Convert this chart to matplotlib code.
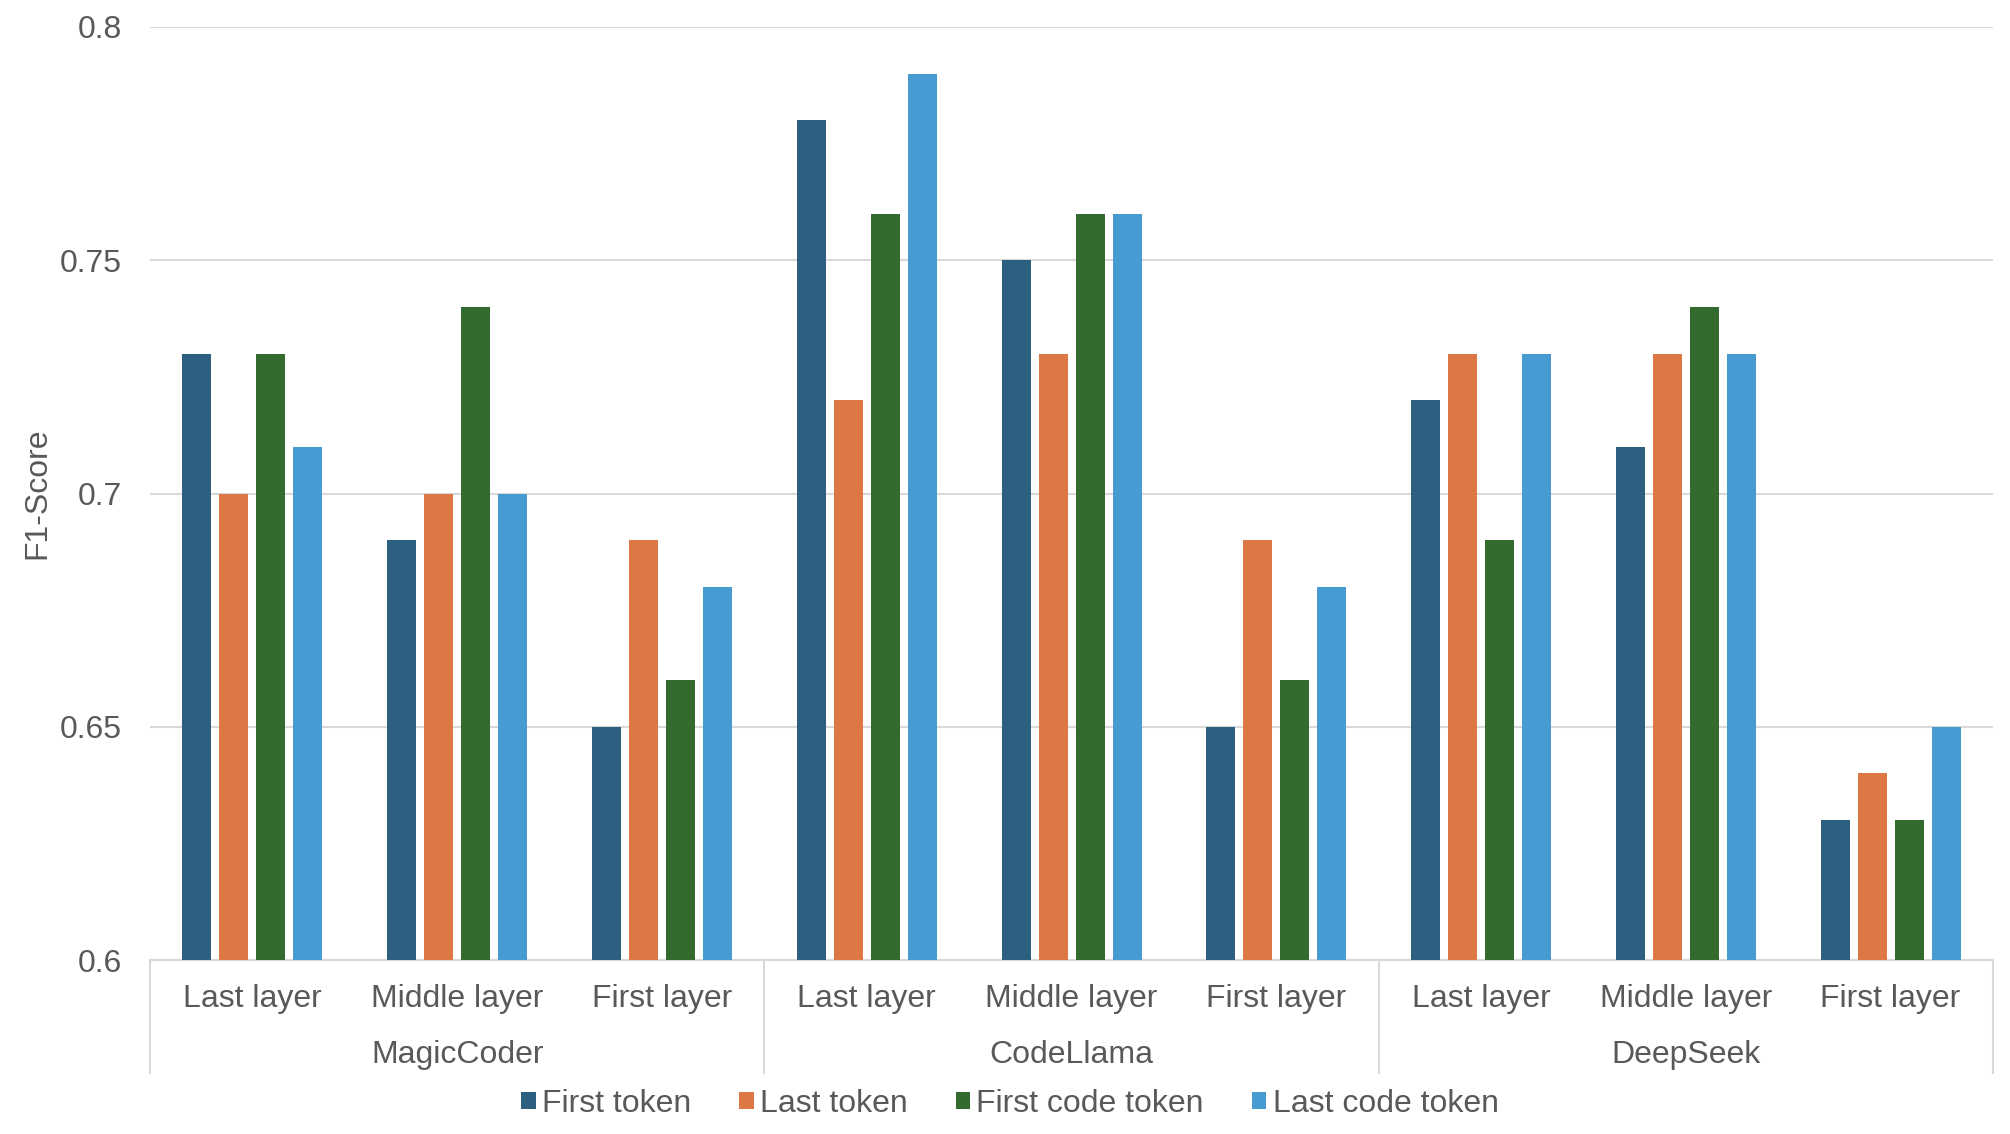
import matplotlib.pyplot as plt
import numpy as np

plt.rcParams['font.family'] = ['Liberation Sans', 'DejaVu Sans']

models = ['MagicCoder', 'CodeLlama', 'DeepSeek']
layers = ['Last layer', 'Middle layer', 'First layer']
series = ['First token', 'Last token', 'First code token', 'Last code token']
colors = ['#2D5F80', '#DD7844', '#336A2D', '#479BD2']

# rows follow model x layer order
first_token = [0.73, 0.69, 0.65, 0.78, 0.75, 0.65, 0.72, 0.71, 0.63]
last_token = [0.70, 0.70, 0.69, 0.72, 0.73, 0.69, 0.73, 0.73, 0.64]
first_code_token = [0.73, 0.74, 0.66, 0.76, 0.76, 0.66, 0.69, 0.74, 0.63]
last_code_token = [0.71, 0.70, 0.68, 0.79, 0.76, 0.68, 0.73, 0.73, 0.65]
values = [first_token, last_token, first_code_token, last_code_token]

text_color = '#595959'
grid_color = '#D9D9D9'

fig = plt.figure(figsize=(20.1, 11.34), dpi=100)
ax = fig.add_axes([150 / 2010, 1 - 960 / 1134, (1993 - 150) / 2010, (960 - 27) / 1134])

n_cat = len(models) * len(layers)
x = np.arange(n_cat)
slot = (1993 - 150) / n_cat
step = 37 / slot
width = 29 / slot
for j, (vals, c) in enumerate(zip(values, colors)):
    ax.bar(x + (j - 1.5) * step, np.array(vals) - 0.6, width=width, bottom=0.6,
           color=c, label=series[j], zorder=3)

ax.set_xlim(-0.5, n_cat - 0.5)
ax.set_ylim(0.6, 0.8)
ax.set_yticks([0.6, 0.65, 0.7, 0.75, 0.8])
ax.set_yticklabels(['0.6', '0.65', '0.7', '0.75', '0.8'])
ax.yaxis.grid(True, color=grid_color, linewidth=1.5, zorder=0)
ax.tick_params(axis='y', length=0, pad=20, labelsize=23, labelcolor=text_color)
ax.set_xticks([])
for s in ['top', 'right', 'left']:
    ax.spines[s].set_visible(False)
ax.spines['bottom'].set_color(grid_color)
ax.spines['bottom'].set_linewidth(1.5)

ax.set_ylabel('F1-Score', fontsize=23, color=text_color)
ax.yaxis.set_label_coords(-98 / 1843, 0.5)

# hierarchical category labels
trans = ax.get_xaxis_transform()
for i in range(n_cat):
    ax.text(i, -0.042, layers[i % 3], transform=trans, ha='center', va='center',
            fontsize=23, color=text_color)
for g, m in enumerate(models):
    ax.text(g * 3 + 1, -0.102, m, transform=trans, ha='center', va='center',
            fontsize=23, color=text_color)
for b in [-0.5, 2.5, 5.5, 8.5]:
    ax.plot([b, b], [0, -0.121], transform=trans, color=grid_color, linewidth=1.5,
            clip_on=False)

fig.legend(loc='center', bbox_to_anchor=(0.5025, 1 - 1104 / 1134), ncol=4, frameon=False,
           fontsize=23, handlelength=0.45, handleheight=0.45, handletextpad=0.2,
           columnspacing=1.5, labelcolor=text_color)

fig.savefig('out.png', dpi=100)
